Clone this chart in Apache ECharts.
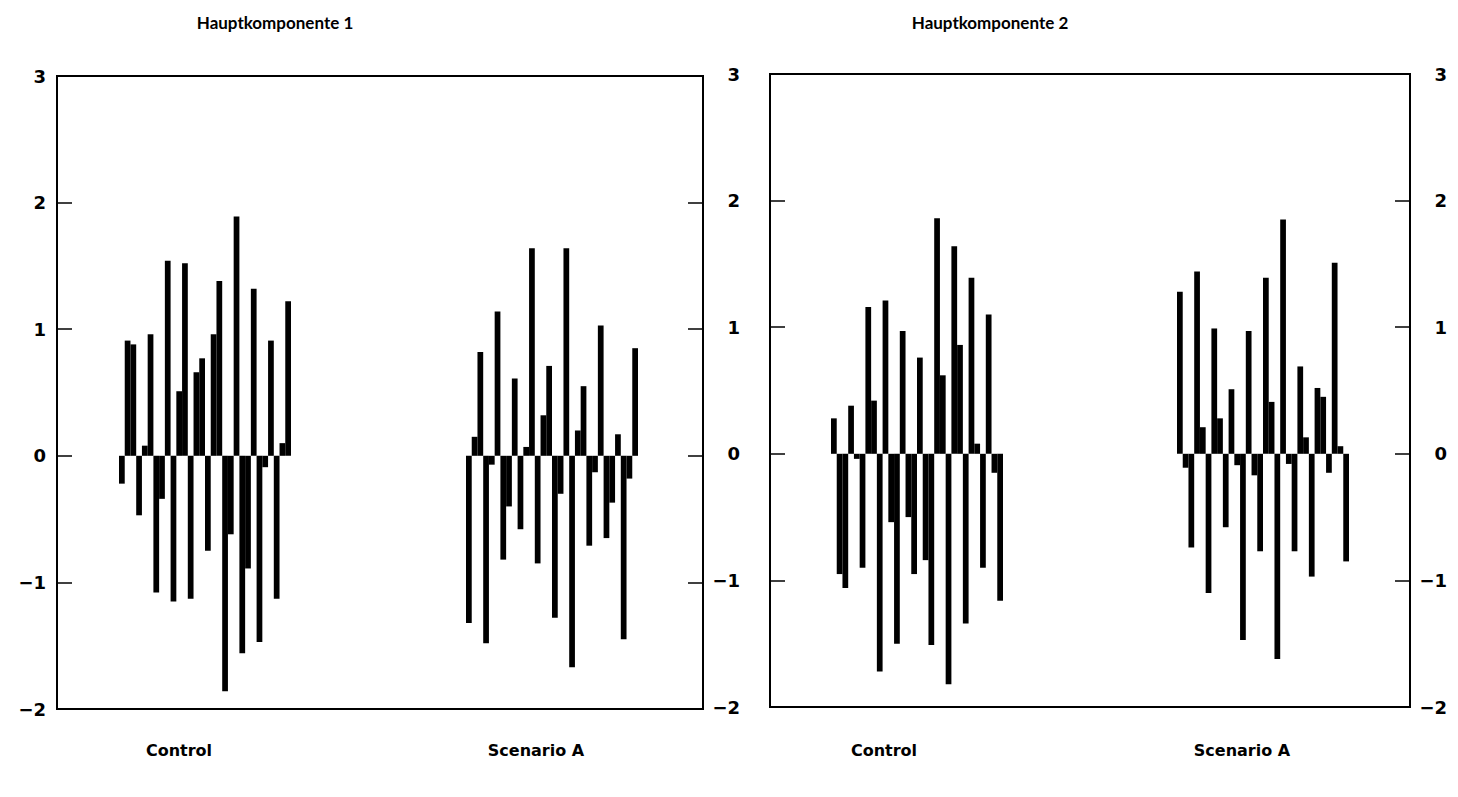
<!DOCTYPE html>
<html>
<head>
<meta charset="utf-8">
<script src="https://cdn.jsdelivr.net/npm/echarts@6/dist/echarts.min.js"></script>
<style>html,body{margin:0;padding:0;background:#fff;}#chart{width:1458px;height:797px;}</style>
</head>
<body>
<div id="chart"></div>
<script>
const panelTitles = ['Hauptkomponente 1', 'Hauptkomponente 2'];
const groupNames = ['Control', 'Scenario A'];
const obsIndex = [1,2,3,4,5,6,7,8,9,10,11,12,13,14,15,16,17,18,19,20,21,22,23,24,25,26,27,28,29,30];
const yTicks = [-2, -1, 0, 1, 2, 3];

const pc1Control = [-0.22,0.91,0.88,-0.47,0.08,0.96,-1.08,-0.34,1.54,-1.15,0.51,1.52,-1.13,0.66,0.77,-0.75,0.96,1.38,-1.86,-0.62,1.89,-1.56,-0.89,1.32,-1.47,-0.09,0.91,-1.13,0.10,1.22];
const pc1ScenarioA = [-1.32,0.15,0.82,-1.48,-0.07,1.14,-0.82,-0.40,0.61,-0.58,0.07,1.64,-0.85,0.32,0.71,-1.28,-0.30,1.64,-1.67,0.20,0.55,-0.71,-0.13,1.03,-0.65,-0.37,0.17,-1.45,-0.18,0.85];
const pc2Control = [0.28,-0.95,-1.06,0.38,-0.04,-0.90,1.16,0.42,-1.72,1.21,-0.54,-1.50,0.97,-0.50,-0.95,0.76,-0.84,-1.51,1.86,0.62,-1.82,1.64,0.86,-1.34,1.39,0.08,-0.90,1.10,-0.15,-1.16];
const pc2ScenarioA = [1.28,-0.11,-0.74,1.44,0.21,-1.10,0.99,0.28,-0.58,0.51,-0.09,-1.47,0.97,-0.17,-0.77,1.39,0.41,-1.62,1.85,-0.08,-0.77,0.69,0.13,-0.97,0.52,0.45,-0.15,1.51,0.06,-0.85];

const FONT = 'DejaVu Sans';
const TITLE_FONT = 'Lato';
const frames = [{left: 57, width: 646, top: 76, bottom: 709}, {left: 770, width: 640, top: 74, bottom: 707}];
const barGroups = [
  {left: 119, width: 172, data: pc1Control, frame: 0},
  {left: 466, width: 172, data: pc1ScenarioA, frame: 0},
  {left: 831, width: 172, data: pc2Control, frame: 1},
  {left: 1177, width: 172, data: pc2ScenarioA, frame: 1}
];
const fmt = v => String(v).replace('-', '\u2212');
const lbl = {fontFamily: FONT, fontWeight: 'bold', fontSize: 18, color: '#000'};

const grid = [], xAxis = [], yAxis = [], series = [];
frames.forEach((f, i) => {
  grid.push({left: f.left, top: f.top, width: f.width, height: f.bottom - f.top, show: true, borderColor: '#000', borderWidth: 2, backgroundColor: 'transparent'});
  xAxis.push({type: 'value', gridIndex: i, min: 0, max: 1, show: false});
  const base = {type: 'value', gridIndex: i, min: yTicks[0], max: yTicks[yTicks.length-1], interval: 1,
    axisLine: {show: false}, splitLine: {show: false},
    axisTick: {show: true, inside: true, length: 15, lineStyle: {color: '#000', width: 1.5}}};
  if (i === 0) {
    yAxis.push(Object.assign({}, base, {position: 'left', axisLabel: Object.assign({formatter: fmt, margin: 11}, lbl)}));
    yAxis.push(Object.assign({}, base, {position: 'right', axisLabel: {show: false}}));
  } else {
    yAxis.push(Object.assign({}, base, {position: 'left', axisLabel: Object.assign({formatter: fmt, margin: 30}, lbl)}));
    yAxis.push(Object.assign({}, base, {position: 'right', axisLabel: Object.assign({formatter: fmt, margin: 37, align: 'right'}, lbl)}));
  }
});
barGroups.forEach((g) => {
  const f = frames[g.frame];
  const gi = grid.length;
  grid.push({left: g.left, top: f.top, width: g.width, height: f.bottom - f.top});
  xAxis.push({type: 'category', gridIndex: gi, data: obsIndex, show: false});
  yAxis.push({type: 'value', gridIndex: gi, min: yTicks[0], max: yTicks[yTicks.length-1], show: false});
  series.push({type: 'bar', xAxisIndex: xAxis.length - 1, yAxisIndex: yAxis.length - 1, data: g.data,
    barCategoryGap: '0%', itemStyle: {color: '#000'}, silent: true, animation: false});
});

const txt = (t, x, y, size, fam) => ({type: 'text', x: x, y: y, style: {text: t, fontFamily: fam, fontWeight: 'bold', fontSize: size, fill: '#000', align: 'center', verticalAlign: 'middle'}});
const graphic = [
  txt(panelTitles[0], 275, 22, 17, TITLE_FONT),
  txt(panelTitles[1], 990, 22, 17, TITLE_FONT),
  txt(groupNames[0], 179, 750, 16, FONT),
  txt(groupNames[1], 536, 750, 16, FONT),
  txt(groupNames[0], 884, 750, 16, FONT),
  txt(groupNames[1], 1242, 750, 16, FONT)
];

const chart = echarts.init(document.getElementById('chart'), null, {renderer: 'svg'});
chart.setOption({animation: false, grid, xAxis, yAxis, series, graphic});
</script>
</body>
</html>
